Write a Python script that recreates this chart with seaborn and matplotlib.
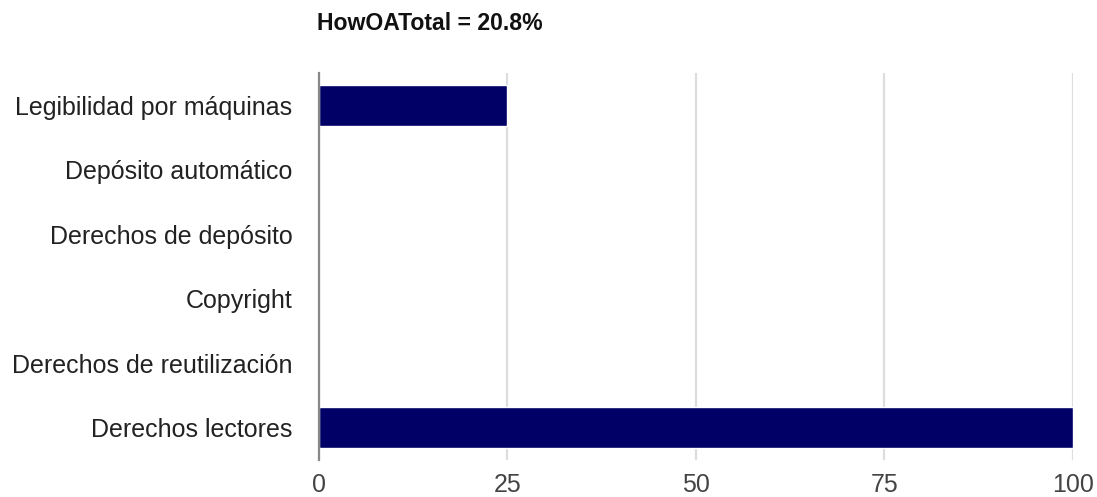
import matplotlib
matplotlib.use('Agg')
import matplotlib.pyplot as plt
import seaborn as sns
import pandas as pd

# data
categories = ['Legibilidad por máquinas', 'Depósito automático', 'Derechos de depósito',
              'Copyright', 'Derechos de reutilización', 'Derechos lectores']
values = [25, 0, 0, 0, 0, 100]
x_ticks = [0, 25, 50, 75, 100]
title = 'HowOATotal = 20.8%'

df = pd.DataFrame({'category': categories, 'value': values})

sns.set_style('white')
plt.rcParams['font.family'] = ['Liberation Sans', 'DejaVu Sans']

fig = plt.figure(figsize=(10.97, 4.97), dpi=100)
ax = fig.add_axes([0.2908, 0.0744, 0.6873, 0.7787])

sns.barplot(data=df, x='value', y='category', orient='h', color='#000066',
            width=0.64, saturation=1, ax=ax, zorder=3)

ax.set_xlim(0, 100)
ax.set_xticks(x_ticks)
ax.set_xlabel('')
ax.set_ylabel('')
ax.grid(axis='x', color='#dddddd', linewidth=1.6, zorder=0)
ax.grid(axis='y', visible=False)
for s in ['top', 'right', 'bottom']:
    ax.spines[s].set_visible(False)
ax.spines['left'].set_color('#888888')
ax.spines['left'].set_linewidth(1.6)
ax.spines['left'].set_zorder(4)

ax.tick_params(axis='y', length=0, pad=19, labelsize=18, labelcolor='#222222')
ax.tick_params(axis='x', length=0, pad=9.5, labelsize=18, labelcolor='#444444')

fig.text(0.289, 0.953, title, ha='left', va='center', fontsize=16.6,
         fontweight='bold', color='#111111')

fig.savefig('out.png', dpi=100)
